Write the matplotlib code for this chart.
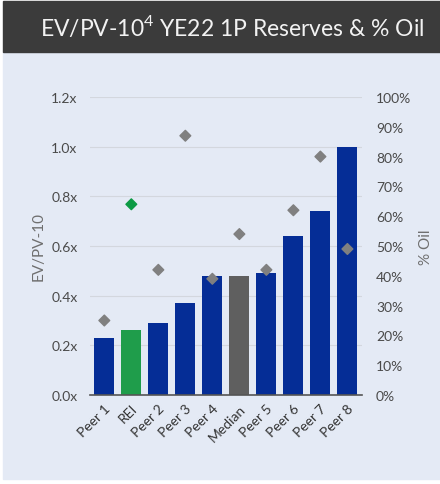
import numpy as np
import matplotlib.pyplot as plt
from matplotlib.patches import Rectangle
from matplotlib.ticker import FuncFormatter

# EV/PV-10 multiples and oil share by company
names = ['Peer 1', 'REI', 'Peer 2', 'Peer 3', 'Peer 4', 'Median',
         'Peer 5', 'Peer 6', 'Peer 7', 'Peer 8']
ev_pv10 = [0.23, 0.26, 0.29, 0.37, 0.48, 0.48, 0.49, 0.64, 0.74, 1.00]
pct_oil = [25, 64, 42, 87, 39, 54, 42, 62, 80, 49]

navy = '#052d96'
green = '#1f9d4b'
median_grey = '#5f5f5f'
text_grey = '#4a4a4a'

plt.rcParams['font.family'] = ['Lato', 'DejaVu Sans']
plt.rcParams['mathtext.fontset'] = 'custom'
plt.rcParams['mathtext.rm'] = 'Lato'

fig = plt.figure(figsize=(4.4, 4.85), dpi=100)
fig.patch.set_facecolor('white')
# panel background and title bar
fig.patches.append(Rectangle((3 / 440, 5 / 485), 437 / 440, 427 / 485,
                             transform=fig.transFigure, color='#e4eaf5', zorder=-10))
fig.patches.append(Rectangle((3 / 440, 432 / 485), 437 / 440, 51 / 485,
                             transform=fig.transFigure, color='#3b3b3b', zorder=-10))
fig.text(0.527, 458 / 485, 'EV/PV-10$^\\mathrm{4}$ YE22 1P Reserves & % Oil', color='#f2f2f2',
         fontsize=16.5, ha='center', va='center')

ax = fig.add_axes([90 / 440, 1 - 396 / 485, 272 / 440, 298 / 485])
ax.set_facecolor('none')
x = np.arange(len(names))
colors = [navy] * len(names)
colors[1] = green
colors[5] = median_grey
ax.bar(x, ev_pv10, width=0.74, color=colors, zorder=2)
ax.set_xlim(-0.53, 9.54)
ax.set_ylim(0, 1.2)
ax.set_yticks(np.arange(0, 1.21, 0.2))
ax.yaxis.set_major_formatter(FuncFormatter(lambda v, p: f'{v:.1f}x'))
ax.grid(axis='y', color='#d3d7de', lw=0.8, zorder=0)
for s in ['top', 'right', 'left']:
    ax.spines[s].set_visible(False)
ax.spines['bottom'].set_color('#555555')
ax.spines['bottom'].set_linewidth(1.2)
ax.tick_params(axis='y', length=0, colors=text_grey, labelsize=10, pad=9)
ax.set_xticks(x)
ax.set_xticklabels(names, rotation=45, ha='right', rotation_mode='anchor')
ax.tick_params(axis='x', length=0, colors='#333333', labelsize=10, pad=5)
ax.set_ylabel('EV/PV-10', color='#6f6f6f', fontsize=11, labelpad=4)

ax2 = ax.twinx()
ax2.set_ylim(0, 100)
ax2.set_yticks(np.arange(0, 101, 10))
ax2.yaxis.set_major_formatter(FuncFormatter(lambda v, p: f'{v:.0f}%'))
for s in ax2.spines.values():
    s.set_visible(False)
ax2.tick_params(axis='y', length=0, colors=text_grey, labelsize=10, pad=10)
ax2.set_ylabel('% Oil', color='#6f6f6f', fontsize=11, labelpad=6)
dcol = ['#808080'] * len(names)
dcol[1] = '#0c9a44'
ax2.scatter(x, pct_oil, marker='D', s=30, c=dcol, zorder=3)

fig.savefig('out.png', dpi=100, facecolor=fig.get_facecolor())
